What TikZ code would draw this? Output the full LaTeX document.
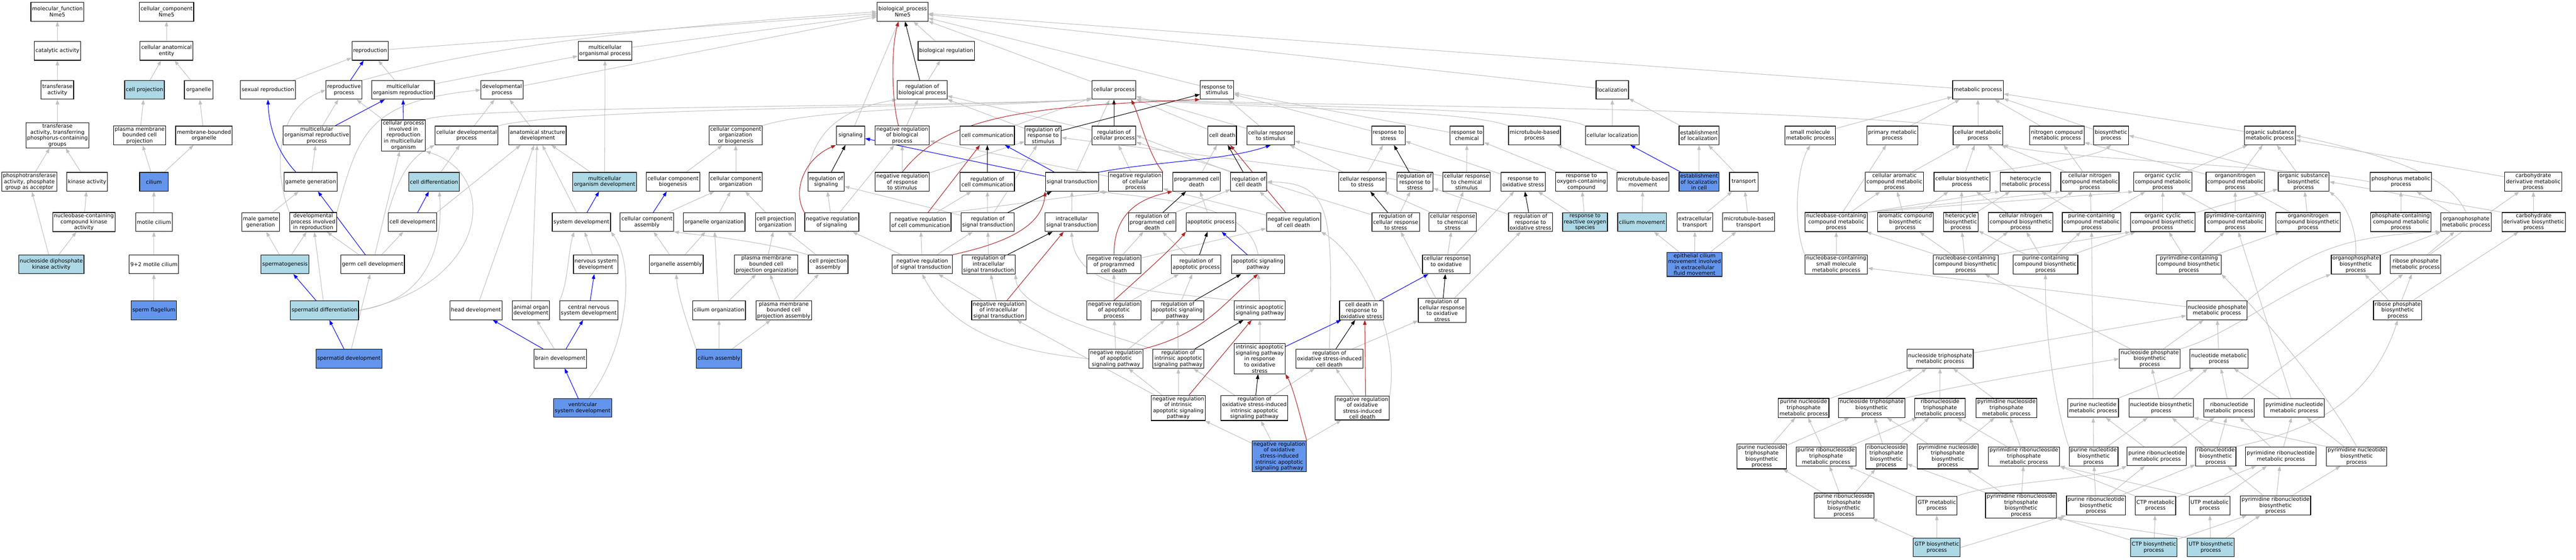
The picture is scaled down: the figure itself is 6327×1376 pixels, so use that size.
\documentclass[tikz,border=0pt]{standalone}
\usepackage{fontspec}
\setmainfont{DejaVu Sans}
\usetikzlibrary{arrows.meta,backgrounds}
\definecolor{lbf}{RGB}{173,216,230}
\definecolor{cbf}{RGB}{100,149,237}
\definecolor{egray}{RGB}{192,192,192}
\definecolor{ered}{RGB}{178,34,34}
\tikzset{
  gn/.style={draw=black, line width=1.5pt, fill=white, rectangle, align=center, inner xsep=3pt, inner ysep=2.5pt, minimum height=46pt, minimum width=70pt, font=\fontsize{13pt}{14.7pt}\selectfont},
  lbn/.style={gn, fill=lbf},
  cbn/.style={gn, fill=cbf},
  ge/.style={draw=egray, line width=1.3pt, -{Triangle[length=12pt,width=8.5pt]}},
  bue/.style={ge, draw=blue},
  bke/.style={ge, draw=black},
  rde/.style={ge, draw=ered},
}
\begin{document}
\begin{tikzpicture}[x=1pt,y=-1pt]
\useasboundingbox (0,0) rectangle (6327,1376);
% R1
\node[gn] (mf) at (141,29) {molecular\_function\\Nme5};
\node[gn] (cc) at (409,29) {cellular\_component\\Nme5};
\node[gn] (bp) at (2217,29) {biological\_process\\Nme5};
% R2
\node[gn] (cat) at (141,125) {catalytic activity};
\node[gn] (cae) at (409,125) {cellular anatomical\\entity};
\node[gn] (repro) at (909,125) {reproduction};
\node[gn] (mop) at (1486,125) {multicellular\\organismal process};
\node[gn] (breg) at (2324,125) {biological regulation};
% R3
\node[gn] (tra) at (141,221) {transferase\\activity};
\node[lbn] (cproj) at (355,221) {cell projection};
\node[gn] (org) at (488,221) {organelle};
\node[gn] (sexr) at (658,221) {sexual reproduction};
\node[gn] (rproc) at (845,221) {reproductive\\process};
\node[gn] (mor) at (990,221) {multicellular\\organism reproduction};
\node[gn] (devp) at (1233,221) {developmental\\process};
\node[gn] (rbp) at (2265,221) {regulation of\\biological process};
\node[gn] (cp) at (2736,221) {cellular process};
\node[gn] (rts) at (2989,221) {response to\\stimulus};
\node[gn] (loc) at (3960,221) {localization};
\node[gn] (met) at (4858,221) {metabolic process};
% R4
\node[gn] (trp) at (141,333) {transferase\\activity, transferring\\phosphorus-containing\\groups};
\node[gn] (pmbcp) at (343,333) {plasma membrane\\bounded cell\\projection};
\node[gn] (mbo) at (501,333) {membrane-bounded\\organelle};
\node[gn] (morp) at (778,333) {multicellular\\organismal reproductive\\process};
\node[gn] (cpir) at (991,333) {cellular process\\involved in\\reproduction\\in multicellular\\organism};
\node[gn] (cdp) at (1146,333) {cellular developmental\\process};
\node[gn] (asd) at (1320,333) {anatomical structure\\development};
\node[gn] (ccob) at (1807,333) {cellular component\\organization\\or biogenesis};
\node[gn] (sig) at (2089,333) {signaling};
\node[gn] (nrbp) at (2216,333) {negative regulation\\of biological\\process};
\node[gn] (ccom) at (2425,333) {cell communication};
\node[gn] (rrts) at (2562,333) {regulation of\\response to\\stimulus};
\node[gn] (rcp) at (2736,333) {regulation of\\cellular process};
\node[gn] (cd) at (3002,333) {cell death};
\node[gn] (crts) at (3121,333) {cellular response\\to stimulus};
\node[gn] (rstress) at (3410,333) {response to\\stress};
\node[gn] (rchem) at (3603,333) {response to\\chemical};
\node[gn] (mtbp) at (3769,333) {microtubule-based\\process};
\node[gn] (cloc) at (3960,333) {cellular localization};
\node[gn] (eloc) at (4173,333) {establishment\\of localization};
\node[gn] (smmp) at (4446,333) {small molecule\\metabolic process};
\node[gn] (pmp) at (4648,333) {primary metabolic\\process};
\node[gn] (cmp) at (4858,333) {cellular metabolic\\process};
\node[gn] (ncmp) at (5052,333) {nitrogen compound\\metabolic process};
\node[gn] (bsp) at (5185,333) {biosynthetic\\process};
\node[gn] (osmp) at (5575,333) {organic substance\\metabolic process};
% R5
\node[gn] (pta) at (72,447) {phosphotransferase\\activity, phosphate\\group as acceptor};
\node[gn] (kin) at (214,447) {kinase activity};
\node[cbn] (cil) at (378,447) {cilium};
\node[gn] (gg) at (763,447) {gamete generation};
\node[lbn] (cdiff) at (1066,447) {cell differentiation};
\node[lbn] (mod) at (1485,447) {multicellular\\organism development};
\node[gn] (ccb) at (1653,447) {cellular component\\biogenesis};
\node[gn] (cco) at (1807,447) {cellular component\\organization};
\node[gn] (rsig) at (2029,447) {regulation of\\signaling};
\node[gn] (nrrts) at (2216,447) {negative regulation\\of response\\to stimulus};
\node[gn] (rccom) at (2425,447) {regulation of\\cell communication};
\node[gn] (st) at (2633,447) {signal transduction};
\node[gn] (nrcp) at (2789,447) {negative regulation\\of cellular\\process};
\node[gn] (pcd) at (2939,447) {programmed cell\\death};
\node[gn] (rcd) at (3067,447) {regulation of\\cell death};
\node[gn] (crstress) at (3346,447) {cellular response\\to stress};
\node[gn] (rrstress) at (3475,447) {regulation of\\response to\\stress};
\node[gn] (crcs) at (3602,447) {cellular response\\to chemical\\stimulus};
\node[gn] (ros) at (3741,447) {response to\\oxidative stress};
\node[gn] (rocc) at (3884,447) {response to\\oxygen-containing\\compound};
\node[gn] (mtbm) at (4035,447) {microtubule-based\\movement};
\node[cbn] (eloccell) at (4173,447) {establishment\\of localization\\in cell};
\node[gn] (transport) at (4283,447) {transport};
\node[gn] (camp) at (4653,447) {cellular aromatic\\compound metabolic\\process};
\node[gn] (cbp) at (4819,447) {cellular biosynthetic\\process};
\node[gn] (hmp) at (4975,447) {heterocycle\\metabolic process};
\node[gn] (cncmp) at (5133,447) {cellular nitrogen\\compound metabolic\\process};
\node[gn] (occmp) at (5312,447) {organic cyclic\\compound metabolic\\process};
\node[gn] (oncmp) at (5490,447) {organonitrogen\\compound metabolic\\process};
\node[gn] (osbp) at (5658,447) {organic substance\\biosynthetic\\process};
\node[gn] (phmp) at (5897,447) {phosphorus metabolic\\process};
\node[gn] (cdmp) at (6222,447) {carbohydrate\\derivative metabolic\\process};
% R6
\node[gn] (nckin) at (206,546) {nucleobase-containing\\compound kinase\\activity};
\node[gn] (mcil) at (378,546) {motile cilium};
\node[gn] (mgg) at (640,546) {male gamete\\generation};
\node[gn] (dpir) at (769,546) {developmental\\process involved\\in reproduction};
\node[gn] (cdev) at (1013,546) {cell development};
\node[gn] (sysdev) at (1428,546) {system development};
\node[gn] (cca) at (1589,546) {cellular component\\assembly};
\node[gn] (oo) at (1754,546) {organelle organization};
\node[gn] (cpo) at (1904,546) {cell projection\\organization};
\node[gn] (nrsig) at (2043,546) {negative regulation\\of signaling};
\node[gn] (nrccom) at (2261,546) {negative regulation\\of cell communication};
\node[gn] (rst) at (2426,546) {regulation of\\signal transduction};
\node[gn] (ist) at (2632,546) {intracellular\\signal transduction};
\node[gn] (rpcd) at (2830,546) {regulation of\\programmed cell\\death};
\node[gn] (ap) at (2974,546) {apoptotic process};
\node[gn] (nrcd) at (3177,546) {negative regulation\\of cell death};
\node[gn] (rcrs) at (3428,546) {regulation of\\cellular response\\to stress};
\node[gn] (crcst) at (3568,546) {cellular response\\to chemical\\stress};
\node[gn] (rros) at (3759,546) {regulation of\\response to\\oxidative stress};
\node[lbn] (rrosp) at (3893,546) {response to\\reactive oxygen\\species};
\node[lbn] (cmov) at (4033,546) {cilium movement};
\node[gn] (ext) at (4163,546) {extracellular\\transport};
\node[gn] (mtbt) at (4295,546) {microtubule-based\\transport};
\node[gn] (nbcmp) at (4510,546) {nucleobase-containing\\compound metabolic\\process};
\node[gn] (acbp) at (4680,546) {aromatic compound\\biosynthetic\\process};
\node[gn] (hbp) at (4816,546) {heterocycle\\biosynthetic\\process};
\node[gn] (cncbp) at (4963,546) {cellular nitrogen\\compound biosynthetic\\process};
\node[gn] (pcmp) at (5137,546) {purine-containing\\compound metabolic\\process};
\node[gn] (occbp) at (5312,546) {organic cyclic\\compound biosynthetic\\process};
\node[gn] (pycmp) at (5490,546) {pyrimidine-containing\\compound metabolic\\process};
\node[gn] (oncbp) at (5669,546) {organonitrogen\\compound biosynthetic\\process};
\node[gn] (pccmp) at (5897,546) {phosphate-containing\\compound metabolic\\process};
\node[gn] (opmp) at (6057,546) {organophosphate\\metabolic process};
\node[gn] (cdbp) at (6223,546) {carbohydrate\\derivative biosynthetic\\process};
% R7
\node[lbn] (ndpk) at (126,650) {nucleoside diphosphate\\kinase activity};
\node[gn] (mc92) at (378,650) {9+2 motile cilium};
\node[lbn] (spg) at (700,650) {spermatogenesis};
\node[gn] (gcd) at (915,650) {germ cell development};
\node[gn] (nsd) at (1463,650) {nervous system\\development};
\node[gn] (oa) at (1661,650) {organelle assembly};
\node[gn] (pmbcpo) at (1882,650) {plasma membrane\\bounded cell\\projection organization};
\node[gn] (cpa) at (2034,650) {cell projection\\assembly};
\node[gn] (nrst) at (2265,650) {negative regulation\\of signal transduction};
\node[gn] (rist) at (2428,650) {regulation of\\intracellular\\signal transduction};
\node[gn] (nrpcd) at (2736,650) {negative regulation\\of programmed\\cell death};
\node[gn] (rap) at (2938,650) {regulation of\\apoptotic process};
\node[gn] (asp) at (3090,650) {apoptotic signaling\\pathway};
\node[gn] (crox) at (3552,650) {cellular response\\to oxidative\\stress};
\node[cbn] (ecm) at (4162,650) {epithelial cilium\\movement involved\\in extracellular\\fluid movement};
\node[gn] (nbsmmp) at (4510,650) {nucleobase-containing\\small molecule\\metabolic process};
\node[gn] (nbcbp) at (4828,650) {nucleobase-containing\\compound biosynthetic\\process};
\node[gn] (pcbp) at (5024,650) {purine-containing\\compound biosynthetic\\process};
\node[gn] (pycbp) at (5376,650) {pyrimidine-containing\\compound biosynthetic\\process};
\node[gn] (opbp) at (5786,650) {organophosphate\\biosynthetic\\process};
\node[gn] (rpmp) at (5933,650) {ribose phosphate\\metabolic process};
% R8
\node[cbn] (sflag) at (378,763) {sperm flagellum};
\node[lbn] (sdiff) at (797,763) {spermatid differentiation};
\node[gn] (headd) at (1169,763) {head development};
\node[gn] (aod) at (1304,763) {animal organ\\development};
\node[gn] (cnsd) at (1446,763) {central nervous\\system development};
\node[gn] (cilo) at (1766,763) {cilium organization};
\node[gn] (pmbcpa) at (1925,763) {plasma membrane\\bounded cell\\projection assembly};
\node[gn] (nrist) at (2453,763) {negative regulation\\of intracellular\\signal transduction};
\node[gn] (nrap) at (2736,763) {negative regulation\\of apoptotic\\process};
\node[gn] (rasp) at (2892,763) {regulation of\\apoptotic signaling\\pathway};
\node[gn] (iasp) at (3094,763) {intrinsic apoptotic\\signaling pathway};
\node[gn] (cdox) at (3344,763) {cell death in\\response to\\oxidative stress};
\node[gn] (rcrox) at (3542,763) {regulation of\\cellular response\\to oxidative\\stress};
\node[gn] (npmp) at (5445,763) {nucleoside phosphate\\metabolic process};
\node[gn] (rpbp) at (5889,763) {ribose phosphate\\biosynthetic\\process};
% R9
\node[cbn] (sdev) at (857,882) {spermatid development};
\node[gn] (braind) at (1376,882) {brain development};
\node[cbn] (cila) at (1766,882) {cilium assembly};
\node[gn] (nrasp) at (2741,882) {negative regulation\\of apoptotic\\signaling pathway};
\node[gn] (riasp) at (2894,882) {regulation of\\intrinsic apoptotic\\signaling pathway};
\node[gn] (iaspox) at (3094,882) {intrinsic apoptotic\\signaling pathway\\in response\\to oxidative\\stress};
\node[gn] (roxcd) at (3265,882) {regulation of\\oxidative stress-induced\\cell death};
\node[gn] (ntpmp) at (4765,882) {nucleoside triphosphate\\metabolic process};
\node[gn] (npbp) at (5280,882) {nucleoside phosphate\\biosynthetic\\process};
\node[gn] (nucmp) at (5450,882) {nucleotide metabolic\\process};
% R10
\node[cbn] (vsd) at (1431,1003) {ventricular\\system development};
\node[gn] (nriasp) at (2894,1003) {negative regulation\\of intrinsic\\apoptotic signaling\\pathway};
\node[gn] (roxiasp) at (3081,1003) {regulation of\\oxidative stress-induced\\intrinsic apoptotic\\signaling pathway};
\node[gn] (nroxcd) at (3346,1003) {negative regulation\\of oxidative\\stress-induced\\cell death};
\node[gn] (pntpmp) at (4430,1003) {purine nucleoside\\triphosphate\\metabolic process};
\node[gn] (ntpbp) at (4597,1003) {nucleoside triphosphate\\biosynthetic\\process};
\node[gn] (rntpmp) at (4765,1003) {ribonucleoside\\triphosphate\\metabolic process};
\node[gn] (pyntpmp) at (4928,1003) {pyrimidine nucleoside\\triphosphate\\metabolic process};
\node[gn] (pnucmp) at (5141,1003) {purine nucleotide\\metabolic process};
\node[gn] (nucbp) at (5308,1003) {nucleotide biosynthetic\\process};
\node[gn] (rnucmp) at (5475,1003) {ribonucleotide\\metabolic process};
\node[gn] (pynucmp) at (5635,1003) {pyrimidine nucleotide\\metabolic process};
% R11
\node[cbn] (nroxiasp) at (3142,1122) {negative regulation\\of oxidative\\stress-induced\\intrinsic apoptotic\\signaling pathway};
\node[gn] (pntpbp) at (4327,1122) {purine nucleoside\\triphosphate\\biosynthetic\\process};
\node[gn] (prntpmp) at (4485,1122) {purine ribonucleoside\\triphosphate\\metabolic process};
\node[gn] (rntpbp) at (4633,1122) {ribonucleoside\\triphosphate\\biosynthetic\\process};
\node[gn] (pyntpbp) at (4784,1122) {pyrimidine nucleoside\\triphosphate\\biosynthetic\\process};
\node[gn] (pyrntpmp) at (4971,1122) {pyrimidine ribonucleoside\\triphosphate\\metabolic process};
\node[gn] (pnucbp) at (5142,1122) {purine nucleotide\\biosynthetic\\process};
\node[gn] (prnucmp) at (5297,1122) {purine ribonucleotide\\metabolic process};
\node[gn] (rnucbp) at (5442,1122) {ribonucleotide\\biosynthetic\\process};
\node[gn] (pyrnucmp) at (5602,1122) {pyrimidine ribonucleotide\\metabolic process};
\node[gn] (pynucbp) at (5788,1122) {pyrimidine nucleotide\\biosynthetic\\process};
% R12
\node[gn] (prntpbp) at (4529,1243) {purine ribonucleoside\\triphosphate\\biosynthetic\\process};
\node[gn] (gtpmp) at (4757,1243) {GTP metabolic\\process};
\node[gn] (pyrntpbp) at (4964,1243) {pyrimidine ribonucleoside\\triphosphate\\biosynthetic\\process};
\node[gn] (prnucbp) at (5148,1243) {purine ribonucleotide\\biosynthetic\\process};
\node[gn] (ctpmp) at (5294,1243) {CTP metabolic\\process};
\node[gn] (utpmp) at (5427,1243) {UTP metabolic\\process};
\node[gn] (pyrnucbp) at (5589,1243) {pyrimidine ribonucleotide\\biosynthetic\\process};
% R13
\node[lbn] (gtpbp) at (4757,1346) {GTP biosynthetic\\process};
\node[lbn] (ctpbp) at (5290,1346) {CTP biosynthetic\\process};
\node[lbn] (utpbp) at (5430,1346) {UTP biosynthetic\\process};

\begin{pgfonlayer}{background}
\fill[white] (0,0) rectangle (6327,1376);
\foreach \a/\b in {cat/mf, tra/cat, trp/tra, pta/trp, kin/trp, nckin/kin, ndpk/pta, ndpk/nckin,
cae/cc, cproj/cae, org/cae, pmbcp/cproj, mbo/org, cil/pmbcp, cil/mbo, mcil/cil, mc92/mcil, sflag/mc92,
repro/bp, sexr/repro, mor/repro, mor/mop, morp/rproc, cpir/rproc, gg/morp, mgg/gg, gcd/dpir, gcd/cpir, gcd/cdev, spg/mgg, spg/dpir, sdiff/dpir, sdev/gcd, cdiff/cdp,
devp/bp, mop/bp, cdp/devp, asd/devp, mod/asd, mod/mop, sysdev/asd, nsd/sysdev, headd/asd, aod/asd, braind/aod,
ccb/ccob, cco/ccob, cca/cco, oo/cco, cpo/cco, oa/cca, oa/oo, pmbcpo/cpo, cpa/cpo, cilo/oo, cilo/pmbcpo, pmbcpa/pmbcpo, pmbcpa/cpa, cila/cilo, cila/pmbcpa,
nrsig/rsig, nrsig/nrbp, sig/bp,
breg/bp, rbp/breg, nrbp/rbp, cp/bp, rts/bp, loc/bp, met/bp, ccom/cp, st/cp, nrccom/rccom, rst/rccom, rst/rrts, rst/rsig, ist/st, rist/rst, nrst/rst, nrst/nrccom, nrst/nrsig, nrist/nrst, nrist/rist, nriasp/nrist, nrap/nrpcd, nrap/rap, rasp/rap, iasp/asp, nrasp/nrap, nrasp/rasp, riasp/rasp, nriasp/nrasp, nriasp/riasp, roxiasp/riasp, roxiasp/roxcd, iaspox/iasp, nroxiasp/nriasp, nroxiasp/roxiasp, nroxiasp/nroxcd,
roxcd/rcrox, nroxcd/roxcd, rcrox/rcrs, rcrox/rros, crox/crcst, crox/ros, rcrs/rrstress, rcrs/rcp, crcst/crstress, crcst/crcs, rros/rrstress, rrosp/ros, rrosp/rocc, cmov/mtbm, ext/transport, ecm/cmov, ecm/ext, ecm/mtbt, crstress/rstress, crstress/crts, rrstress/rrts, crcs/rchem, crcs/crts, ros/rstress, rocc/rchem, mtbm/mtbp, eloccell/eloc, mtbt/transport, transport/eloc, rstress/rts, rchem/rts, cloc/loc, eloc/loc, crts/rts, crts/cp, cd/cp, pcd/cd, nrcd/rcd, nrcd/nrcp, rpcd/rcd, ap/pcd, nrpcd/rpcd, nrpcd/nrcd, rap/rpcd, nrcp/rcp, nrcp/nrbp, rcp/rbp, rrts/rbp, nrrts/nrbp, nrrts/rrts,
smmp/met, pmp/met, cmp/met, ncmp/met, bsp/met, osmp/met, camp/cmp, cbp/cmp, hmp/cmp, cncmp/cmp, cncmp/ncmp, oncmp/ncmp, occmp/osmp, oncmp/osmp, osbp/osmp, cdmp/osmp, opmp/phmp, pccmp/phmp, cdbp/cdmp, pycmp/occmp, pycmp/oncmp, oncbp/oncmp, oncbp/osbp, occbp/occmp, occbp/osbp, nbcmp/camp, nbcmp/pmp, acbp/camp, acbp/cbp, hbp/hmp, hbp/cbp, cncbp/cncmp, cncbp/cbp, pcmp/hmp, pcmp/occmp, pcmp/cncmp, nbsmmp/nbcmp, nbcbp/nbcmp, nbcbp/acbp, nbcbp/hbp, nbcbp/cncbp, pcbp/pcmp, pcbp/hbp, pcbp/cncbp, pcbp/occbp, pycbp/occbp, pycbp/pycmp, pycbp/oncbp, opbp/opmp, rpmp/opmp, rpmp/cdmp, npmp/nbsmmp, ntpmp/npmp, npbp/nbcbp, npbp/npmp, nucmp/npmp, pnucmp/pcmp, pnucmp/nucmp, nucbp/nucmp, nucbp/npbp, rnucmp/nucmp, rnucmp/rpmp, pynucmp/nucmp, pynucmp/pycmp, pntpmp/ntpmp, ntpbp/ntpmp, rntpmp/ntpmp, pyntpmp/ntpmp, pntpbp/pntpmp, pntpbp/ntpbp, prntpmp/pntpmp, prntpmp/rntpmp, rntpbp/ntpbp, rntpbp/rntpmp, pyntpbp/ntpbp, pyntpbp/pyntpmp, pyrntpmp/rntpmp, pyrntpmp/pyntpmp, pnucbp/pnucmp, pnucbp/nucbp, prnucmp/pnucmp, prnucmp/rnucmp, rnucbp/rnucmp, rnucbp/nucbp, pyrnucmp/rnucmp, pyrnucmp/pynucmp, pynucbp/pynucmp, rpbp/opbp, rpbp/rpmp, rpbp/cdbp, prntpbp/pntpbp, prntpbp/prntpmp, prntpbp/rntpbp, gtpmp/prntpmp, pyrntpbp/pyntpbp, pyrntpbp/pyrntpmp, pyrntpbp/rntpbp, prnucbp/pnucbp, prnucbp/prnucmp, prnucbp/rnucbp, ctpmp/pyrnucmp, utpmp/pyrnucmp, pyrnucbp/rnucbp, pyrnucbp/pyrnucmp, pyrnucbp/pynucbp, gtpbp/prntpbp, gtpbp/gtpmp, ctpbp/pyrntpbp, ctpbp/ctpmp, ctpbp/pyrnucbp, utpbp/utpmp, utpbp/pyrnucbp}
  \draw[ge] (\a) -- (\b);
% special gray curves
\draw[ge] (rproc.north east) .. controls (1100,140) and (1400,80) .. (bp.west);
\draw[ge] (dpir.north west) .. controls (675,430) and (670,270) .. (rproc.west);
\draw[ge] (dpir.north east) .. controls (880,330) and (900,250) .. (devp.west);
\draw[ge] (sdiff.east) .. controls (1040,740) and (1090,620) .. ([xshift=13pt]cdiff.south);
\draw[ge] (sdiff.east) .. controls (1200,700) and (1230,430) .. (cpir.south east);
\draw[ge] (cdev.north west) .. controls (975,450) and (1000,390) .. (cdp.south west);
\draw[ge] (cdev.north east) -- ([xshift=30pt]asd.south west);
\draw[ge] (cnsd.north west) .. controls (1395,700) and (1395,620) .. ([xshift=-18pt]sysdev.south);
\draw[ge] ([xshift=15pt]vsd.north) .. controls (1545,850) and (1560,650) .. (sysdev.south east);
\draw[ge] (cila.north west) .. controls (1690,800) and (1665,730) .. (oa.south);
\draw[ge] (cpa.north west) .. controls (1870,592) and (1730,580) .. (cca.south east);
\draw[ge] (nrccom.north east) -- (nrcp.south west);
\draw[ge] (nrasp.west) .. controls (2450,860) and (2330,800) .. (nrst.south);
\draw[ge] (iasp.north west) .. controls (2850,715) and (2640,720) .. (ist.south);
\draw[ge] (riasp.north west) .. controls (2700,815) and (2500,760) .. (rist.south east);
\draw[ge] (asp.north) .. controls (3070,500) and (2850,490) .. (st.south east);
\draw[ge] (rcd.north west) -- (rcp.east);
\draw[ge] (roxcd.north) .. controls (3275,520) and (3270,450) .. (rcd.east);
\draw[ge] (nroxcd.north east) .. controls (3440,800) and (3330,620) .. (nrcd.south east);
\draw[ge] (cmp.north west) .. controls (4300,262) and (3300,262) .. (cp.south east);
\draw[ge] (cloc.north west) .. controls (3800,265) and (3200,265) .. (cp.south east);
\draw[ge] (mtbp.north west) .. controls (3600,268) and (3100,268) .. (cp.south east);
\draw[ge] (cpir.north east) .. controls (1100,262) and (2300,262) .. (cp.south west);
\draw[ge] (cdp.north east) .. controls (1400,265) and (2300,265) .. (cp.south west);
\draw[ge] (ccob.north east) .. controls (2000,268) and (2350,265) .. (cp.south west);
\draw[ge] (rsig.north west) .. controls (2005,300) and (2100,262) .. (rbp.south west);
\draw[ge] (nbsmmp.north west) .. controls (4405,560) and (4410,420) .. (smmp.south);
\draw[ge] (nbcmp.north east) -- (hmp.south west);
\draw[ge] (nbcmp.north east) -- (cncmp.south west);
\draw[ge] (nbcmp.north east) -- (occmp.south west);
\draw[ge] (nbcbp.north east) -- (occbp.south west);
\draw[ge] (pnucbp.north west) .. controls (5060,1040) and (5022,860) .. (pcbp.south);
\draw[ge] (cbp.north east) .. controls (5000,405) and (5150,385) .. (bsp.south);
\draw[ge] (osbp.north west) -- (bsp.east);
\draw[ge] (phmp.west) .. controls (5600,405) and (5100,395) .. (cmp.south east);
\draw[ge] (opmp.north) .. controls (6020,440) and (5900,390) .. (osmp.east);
\draw[ge] (cdbp.north west) -- (osbp.east);
\draw[ge] (opbp.north) .. controls (5790,560) and (5760,500) .. (osbp.south east);
\draw[ge] (npmp.north east) .. controls (5660,620) and (5750,580) .. (opmp.south west);
\draw[ge] (npbp.north east) .. controls (5470,825) and (5600,720) .. (opbp.south west);
\draw[ge] (ntpbp.north east) .. controls (4800,950) and (5000,915) .. (npbp.west);
\draw[ge] (rnucbp.north east) .. controls (5650,1065) and (5820,1000) .. (rpbp.south);
\draw[ge] (pynucbp.north) .. controls (5735,1000) and (5600,820) .. (pycbp.south east);
\draw[ge] (pynucbp.north west) -- (nucbp.south east);
\draw[ge] (gtpmp.north east) .. controls (4900,1185) and (5150,1178) .. (prnucmp.south west);
\draw[ge] (ctpmp.north west) -- (pyrntpmp.south east);
\draw[ge] (utpmp.north west) -- (pyrntpmp.south east);
\draw[ge] (gtpbp.east) -- (prnucbp.south west);
\draw[ge] (utpbp.north west) -- (pyrntpbp.south east);
% blue
\foreach \a/\b in {rproc/repro, morp/mor, cpir/mor, gcd/gg, sdiff/spg, sdev/sdiff, cdev/cdiff, sysdev/mod, cnsd/nsd, braind/headd, braind/cnsd, vsd/braind, cca/ccb, st/ccom, st/sig, eloccell/cloc, iaspox/cdox, cdox/crox, asp/ap}
  \draw[bue] (\a) -- (\b);
\draw[bue] ([xshift=30pt]gg.north west) .. controls (668,360) and (660,290) .. (sexr.south);
\draw[bue] (st.north east) .. controls (2850,395) and (3010,395) .. (crts.south);
% black
\foreach \a/\b in {rsig/sig, rbp/bp, rrts/rts, rcp/cp, rccom/ccom, rst/st, rist/ist, rpcd/pcd, rcd/cd, rap/ap, rasp/asp, riasp/iasp, roxiasp/iaspox, rcrs/crstress, rrstress/rstress, rros/ros, roxcd/cdox, rcrox/crox}
  \draw[bke] (\a) -- (\b);
% red
\foreach \a/\b in {nrccom/ccom, nrist/ist, nrcd/cd, nriasp/iasp}
  \draw[rde] (\a) -- (\b);
\draw[rde] ([xshift=58pt]nrbp.north west) .. controls (2190,250) and (2188,120) .. ([xshift=-10pt]bp.south);
\draw[rde] (nrrts.north) .. controls (2320,290) and (2500,262) .. (rts.south west);
\draw[rde] (nrcp.north east) .. controls (2820,380) and (2800,290) .. ([xshift=-12pt]cp.south east);
\draw[rde] (nrsig.north west) .. controls (1945,470) and (1975,390) .. (sig.south west);
\draw[rde] (nrst.north east) .. controls (2460,600) and (2560,560) .. (st.south west);
\draw[rde] (nrasp.north east) .. controls (2960,820) and (3010,740) .. (asp.south);
\draw[rde] (nroxiasp.north east) .. controls (3190,1010) and (3175,950) .. (iaspox.south east);
\draw[rde] ([xshift=8pt]nroxcd.north) -- ([xshift=8pt]cdox.south);
\draw[rde] (nrap.north) .. controls (2790,690) and (2880,610) .. (ap.south west);
\draw[rde] (nrpcd.north) .. controls (2736,530) and (2790,490) .. (pcd.south west);
\end{pgfonlayer}
\end{tikzpicture}
\end{document}
